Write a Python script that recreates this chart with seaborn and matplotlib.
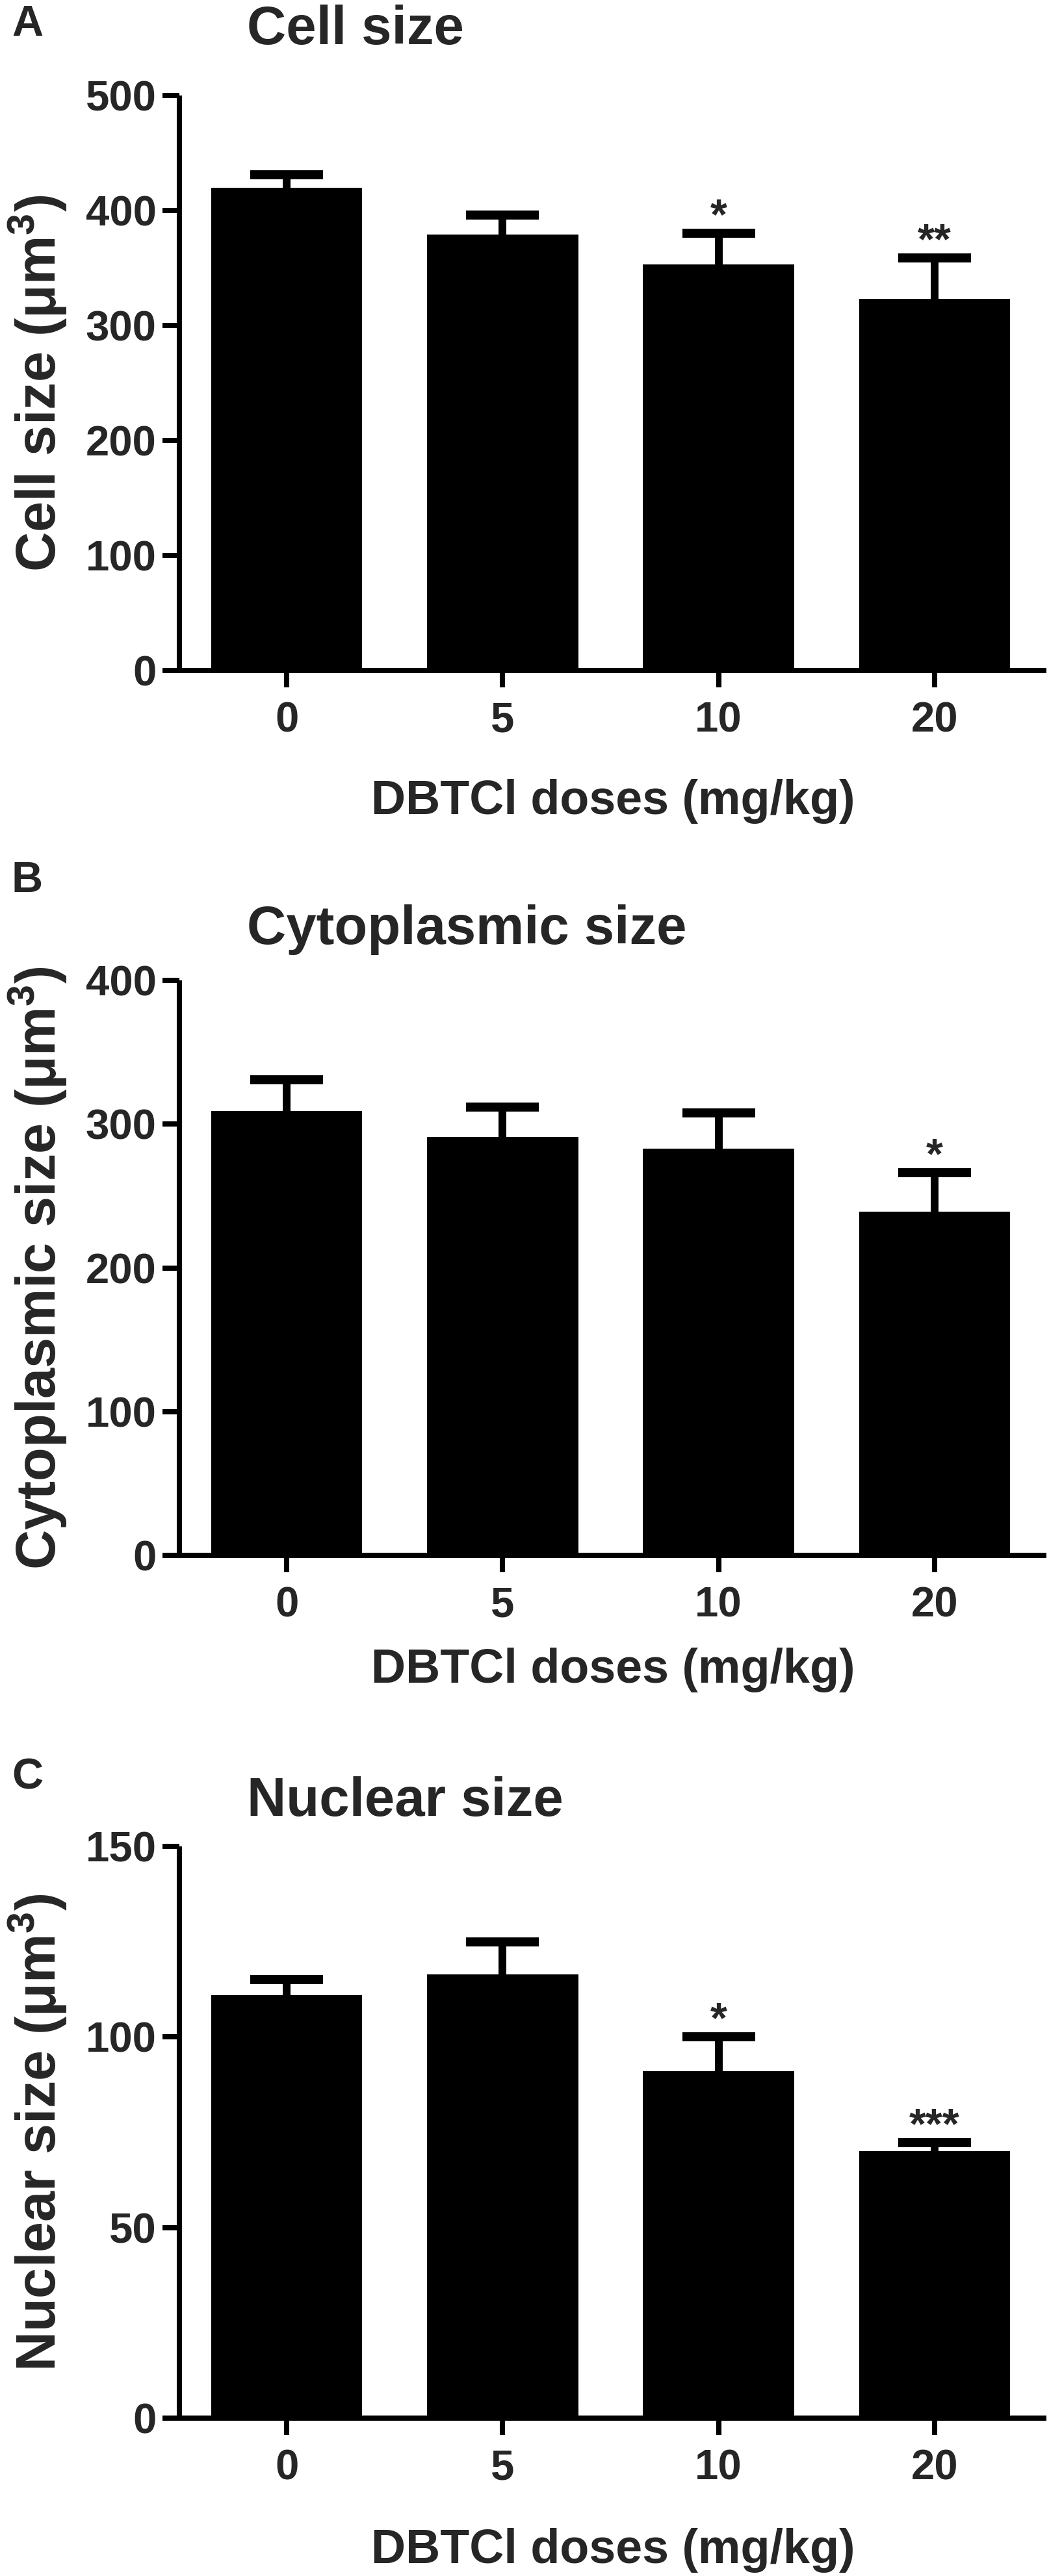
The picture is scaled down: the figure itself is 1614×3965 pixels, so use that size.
import matplotlib
matplotlib.use("Agg")
import matplotlib.pyplot as plt
import seaborn as sns
import numpy as np
import pandas as pd

# ---------------- data ----------------
doses = ["0", "5", "10", "20"]

cell_mean = [420, 379, 353, 323]
cell_err = [11, 17, 27, 36]
cell_stars = ["", "", "*", "**"]

cyto_mean = [309, 291, 283, 239]
cyto_err = [22, 21, 25, 27]
cyto_stars = ["", "", "", "*"]

nuc_mean = [111, 116.5, 91, 70]
nuc_err = [4, 8.5, 9, 2.3]
nuc_stars = ["", "", "*", "***"]

titles = ["Cell size", "Cytoplasmic size", "Nuclear size"]
ylabels = ["Cell size (μm$^{3}$)", "Cytoplasmic size (μm$^{3}$)", "Nuclear size (μm$^{3}$)"]
panel_letters = ["A", "B", "C"]
xlabel = "DBTCl doses (mg/kg)"
yticks_list = [[0, 100, 200, 300, 400, 500], [0, 100, 200, 300, 400], [0, 50, 100, 150]]

# ---------------- style ----------------
sns.set_style("ticks")
plt.rcParams["font.family"] = ["Liberation Sans", "DejaVu Sans"]
plt.rcParams["font.weight"] = "bold"
plt.rcParams["mathtext.fontset"] = "custom"
plt.rcParams["mathtext.rm"] = "Liberation Sans:bold"
plt.rcParams["mathtext.bf"] = "Liberation Sans:bold"
plt.rcParams["mathtext.it"] = "Liberation Sans:bold"
plt.rcParams["mathtext.default"] = "rm"

W, H = 1614, 3965
DPI = 100
fig = plt.figure(figsize=(W / DPI, H / DPI), dpi=DPI)
fig.patch.set_facecolor("white")

# layout in pixels
ax_left, ax_right = 276, 1610
ax_tb = [(147, 1032), (1509, 2394), (2842, 3722)]
title_base = [68, 1453, 2795]
letter_top = [7, 1325, 2705]
xlabel_base = [1253, 2590, 3945]

LW = 5.8  # axis line width in points

panels = [
    (cell_mean, cell_err, cell_stars),
    (cyto_mean, cyto_err, cyto_stars),
    (nuc_mean, nuc_err, nuc_stars),
]

for k, (means, errs, stars) in enumerate(panels):
    top, bot = ax_tb[k]
    ax = fig.add_axes([ax_left / W, 1 - bot / H, (ax_right - ax_left) / W, (bot - top) / H])
    df = pd.DataFrame({"dose": doses, "value": means})
    sns.barplot(data=df, x="dose", y="value", order=doses, color="black",
                width=0.70, errorbar=None, linewidth=0, saturation=1, ax=ax,
                zorder=3)
    eb = ax.errorbar(np.arange(len(doses)), means, yerr=[np.zeros(len(errs)), errs],
                     fmt="none", ecolor="black", elinewidth=8.6, capsize=40, capthick=10,
                     zorder=1)
    # keep only the upper caps (one-sided SEM bars)
    for cl in eb[1]:
        if np.allclose(np.asarray(cl.get_ydata(), dtype=float), np.asarray(means, dtype=float)):
            cl.remove()
    for i, s in enumerate(stars):
        if s:
            ax.annotate(s, xy=(i, means[i] + errs[i]), xytext=(0, 5),
                        textcoords="offset points", ha="center", va="baseline",
                        fontsize=48, fontweight="bold")
    yt = yticks_list[k]
    ax.set_ylim(0, yt[-1])
    ax.set_yticks(yt)
    ax.set_xlim(-0.497, 3.518)
    for sp in ["top", "right"]:
        ax.spines[sp].set_visible(False)
    for sp in ["left", "bottom"]:
        ax.spines[sp].set_linewidth(LW)
        ax.spines[sp].set_color("black")
        ax.spines[sp].set_capstyle("butt")
        ax.spines[sp].set_zorder(4)
    ax.tick_params(axis="both", which="major", length=19, width=LW, color="black",
                   labelsize=47, direction="out")
    ax.tick_params(axis="y", pad=6.5)
    ax.tick_params(axis="x", pad=15)
    for lab in ax.get_xticklabels() + ax.get_yticklabels():
        lab.set_fontweight("bold")
    ax.set_xlabel("")
    ax.set_ylabel(ylabels[k], fontsize=61, fontweight="bold")
    ax.yaxis.set_label_coords((106 - ax_left) / (ax_right - ax_left), 0.5)
    ax.set_facecolor("white")

    fig.text((ax_left + ax_right) / 2 / W, 1 - xlabel_base[k] / H, xlabel,
             ha="center", va="baseline", fontsize=53, fontweight="bold")
    fig.text(380 / W, 1 - title_base[k] / H, titles[k], ha="left", va="baseline",
             fontsize=60, fontweight="bold")
    fig.text(18 / W, 1 - letter_top[k] / H, panel_letters[k], ha="left", va="top",
             fontsize=48, fontweight="bold")

fig.savefig("out.png", dpi=DPI, facecolor="white")
